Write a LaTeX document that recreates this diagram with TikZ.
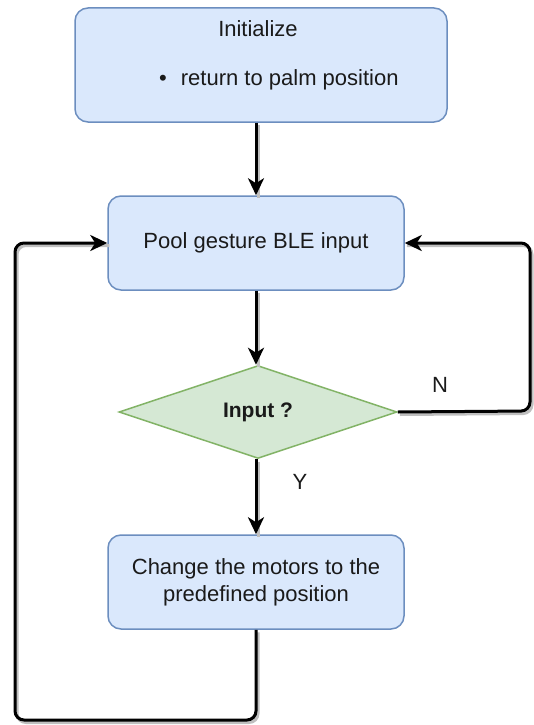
\documentclass[tikz,border=0pt]{standalone}
\usepackage{fontspec}
\setmainfont{Liberation Sans}
\usetikzlibrary{shapes.geometric,arrows.meta}
\definecolor{boxfill}{HTML}{DAE8FC}
\definecolor{boxline}{HTML}{6C8EBF}
\definecolor{diafill}{HTML}{D5E8D4}
\definecolor{dialine}{HTML}{82B366}
\definecolor{txt}{HTML}{1A1A1A}
\tikzset{
  procbox/.style={draw=boxline, fill=boxfill, line width=1.5pt, rounded corners=13pt,
    minimum width=296pt, minimum height=94pt, align=center, text=txt, font=\fontsize{22}{27}\selectfont},
  decbox/.style={diamond, draw=dialine, fill=diafill, line width=1.5pt, inner sep=0pt,
    minimum width=278pt, minimum height=93pt, text=txt, font=\fontsize{21}{26}\selectfont\bfseries},
  lbl/.style={text=txt, font=\fontsize{22}{26}\selectfont, inner sep=0pt},
  edge/.style={line width=3pt, black, -{Stealth[length=17pt,width=16pt,inset=5pt]},
    preaction={draw=black!25, line width=3pt, -, transform canvas={xshift=2pt,yshift=-2.5pt}}},
}
\begin{document}
\begin{tikzpicture}[x=1pt,y=-1pt]
\useasboundingbox (0,0) rectangle (534,725);
\node[procbox, minimum width=372pt, minimum height=114pt] (init) at (261,65) {};
\node[lbl] (initt) at (258,29) {Initialize};
\node[lbl, anchor=west] (initb) at (159,80) {\textbullet\hspace{14pt}return to palm position};
\node[procbox] (pool) at (256,243) {Pool gesture BLE input};
\node[decbox] (dia) at (258,412) {\raisebox{-2pt}{Input ?}};
\node[procbox] (chg) at (256,582) {Change the motors to the\\predefined position};
\coordinate (rt) at (530,243);
\coordinate (rb) at (530,411);
\coordinate (lt) at (15,243);
\coordinate (lb) at (15,720);
\draw[edge] (init.south -| pool.north) -- (pool.north);
\draw[edge] (pool.south) -- (pool.south |- dia.north);
\draw[edge] (dia.south -| chg.north) -- (chg.north);
\draw[edge, rounded corners=9pt] (dia.east) -- (rb) -- (rt) -- (pool.east);
\draw[edge, rounded corners=9pt] (chg.south) -- (chg.south |- lb) -- (lb) -- (lt) -- (pool.west);
\node[lbl] (nl) at (440,385) {N};
\node[lbl] (yl) at (300,482) {Y};
\end{tikzpicture}
\end{document}
